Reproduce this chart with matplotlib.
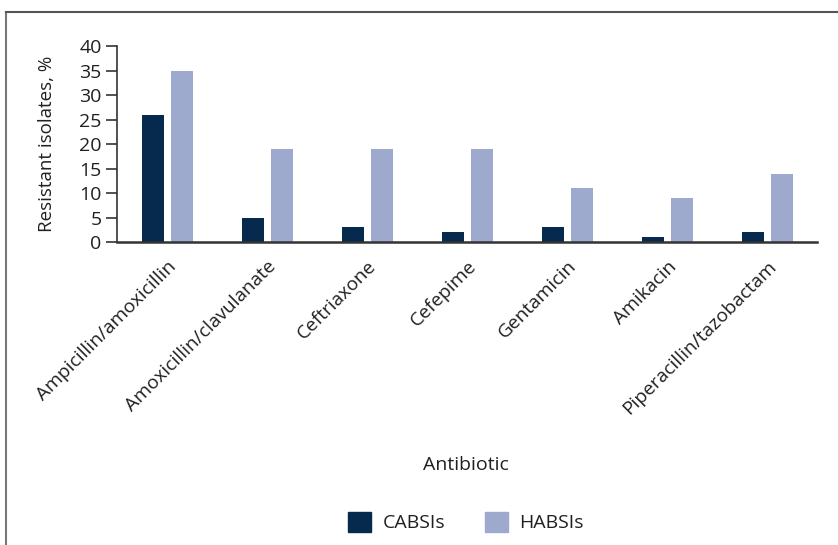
import matplotlib
matplotlib.use("Agg")
import matplotlib.pyplot as plt
from matplotlib.lines import Line2D
from matplotlib.patches import Patch
import numpy as np

plt.rcParams['font.family'] = ['Open Sans', 'DejaVu Sans']

antibiotics = ["Ampicillin/amoxicillin", "Amoxicillin/clavulanate", "Ceftriaxone",
               "Cefepime", "Gentamicin", "Amikacin", "Piperacillin/tazobactam"]
cabsi = [26, 5, 3, 2, 3, 1, 2]
habsi = [35, 19, 19, 19, 11, 9, 14]
yticks = [0, 5, 10, 15, 20, 25, 30, 35, 40]

c_dark = "#052a4d"
c_light = "#9eaacd"
txt = "#231f20"

W, H = 838, 545
fig = plt.figure(figsize=(W / 100, H / 100), dpi=100)
ax = fig.add_axes([117 / W, 1 - 242 / H, 700 / W, (242 - 46.3) / H])

x = np.arange(len(antibiotics))
bw = 0.22
off = 0.145
ax.bar(x - off, cabsi, bw, color=c_dark, label="CABSIs")
ax.bar(x + off, habsi, bw, color=c_light, label="HABSIs")

ax.set_xlim(-0.5, len(antibiotics) - 0.5)
ax.set_ylim(0, 40)
ax.set_yticks(yticks)
ax.set_yticklabels([str(v) for v in yticks], fontsize=14, color=txt)
ax.set_xticks(x)
ax.set_xticklabels(antibiotics, rotation=45, ha='right', rotation_mode='anchor',
                   fontsize=13.8, color=txt)
ax.tick_params(axis='x', length=0, pad=11)
ax.tick_params(axis='y', length=8, width=1.2, color="#333333", pad=3)
for s in ['top', 'right']:
    ax.spines[s].set_visible(False)
ax.spines['left'].set_color("#333333")
ax.spines['bottom'].set_color("#333333")
ax.spines['left'].set_linewidth(1.2)
ax.spines['bottom'].set_linewidth(1.8)

ax.set_ylabel("Resistant isolates, %", fontsize=13.5, color=txt, labelpad=17)
fig.text(466 / W, 1 - 465 / H, "Antibiotic", ha='center', va='center', fontsize=14, color=txt)

handles = [Patch(color=c_dark, label="CABSIs"), Patch(color=c_light, label="HABSIs")]
fig.legend(handles=handles, loc='center', bbox_to_anchor=(466 / W, 1 - 522 / H), ncol=2,
           frameon=False, fontsize=14, handlelength=1.2, handleheight=1.2,
           columnspacing=2.0, handletextpad=0.6, labelcolor=txt)

# outer border (left and top visible)
fig.add_artist(Line2D([6 / W, 6 / W], [0, 1 - 12 / H], transform=fig.transFigure,
                      color="#777777", linewidth=1.5))
fig.add_artist(Line2D([6 / W, 1], [1 - 12 / H, 1 - 12 / H], transform=fig.transFigure,
                      color="#555555", linewidth=1.5))

fig.savefig("out.png", dpi=100)
